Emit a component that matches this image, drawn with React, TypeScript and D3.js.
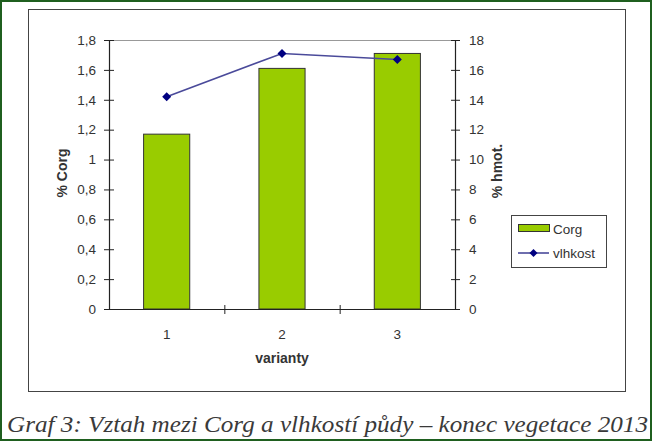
import React from "react";
import * as d3 from "d3";

const categories = ["1", "2", "3"];
const corg = [1.17, 1.61, 1.71];
const vlhkost = [14.2, 17.1, 16.7];
const leftTicks = [0, 0.2, 0.4, 0.6, 0.8, 1, 1.2, 1.4, 1.6, 1.8];
const rightTicks = [0, 2, 4, 6, 8, 10, 12, 14, 16, 18];
const caption = "Graf 3: Vztah mezi Corg a vlhkostí půdy – konec vegetace 2013";

const W = 652;
const H = 441;
const left = 109;
const right = 455;
const top = 40;
const bottom = 309;

export default function App() {
  const x = d3.scaleBand<string>().domain(categories).range([left, right]).paddingInner(0).paddingOuter(0);
  const yL = d3.scaleLinear().domain([0, 1.8]).range([bottom, top]);
  const yR = d3.scaleLinear().domain([0, 18]).range([bottom, top]);
  const bw = x.bandwidth() * 0.4;
  const fmt = (v: number) => String(v).replace(".", ",");
  const line = d3
    .line<number>()
    .x((_, i) => (x(categories[i]) as number) + x.bandwidth() / 2)
    .y((d) => yR(d));
  const font = "Arial, 'Liberation Sans', sans-serif";
  const diamond = (cx: number, cy: number, r: number) =>
    `M${cx},${cy - r}L${cx + r},${cy}L${cx},${cy + r}L${cx - r},${cy}Z`;
  const boundaries = d3.range(categories.length + 1).map((i) => left + i * x.bandwidth());

  return (
    <div style={{ position: "fixed", left: 0, top: 0 }}>
      <svg width={W} height={H} style={{ display: "block" }}>
        <rect x={0} y={0} width={W} height={H} fill="#ffffff" />
        <rect x={1} y={1} width={W - 2} height={H - 2} fill="none" stroke="#1f5f1f" strokeWidth={2} />
        <rect x={28.5} y={9.5} width={597} height={382} fill="#fff" stroke="#444" strokeWidth={1} />
        <line x1={left} x2={right} y1={top + 0.5} y2={top + 0.5} stroke="#999" strokeWidth={1} />
        {corg.map((v, i) => {
          const cx = (x(categories[i]) as number) + x.bandwidth() / 2;
          return (
            <rect
              key={i}
              x={cx - bw / 2}
              y={yL(v)}
              width={bw}
              height={bottom - yL(v)}
              fill="#99cc00"
              stroke="#333"
              strokeWidth={1}
            />
          );
        })}
        <line x1={left + 0.5} x2={left + 0.5} y1={top} y2={bottom} stroke="#222" strokeWidth={1.2} />
        <line x1={right + 0.5} x2={right + 0.5} y1={top} y2={bottom} stroke="#222" strokeWidth={1.2} />
        <line x1={left} x2={right} y1={bottom + 0.5} y2={bottom + 0.5} stroke="#222" strokeWidth={1.2} />
        {leftTicks.map((t) => (
          <g key={"l" + t}>
            <line x1={left - 5} x2={left + 5} y1={yL(t) + 0.5} y2={yL(t) + 0.5} stroke="#222" />
            <text x={left - 13} y={yL(t)} dy="0.35em" textAnchor="end" fontFamily={font} fontSize={13.5} fill="#333">
              {fmt(t)}
            </text>
          </g>
        ))}
        {rightTicks.map((t) => (
          <g key={"r" + t}>
            <line x1={right - 4} x2={right + 5} y1={yR(t) + 0.5} y2={yR(t) + 0.5} stroke="#222" />
            <text x={right + 14} y={yR(t)} dy="0.35em" textAnchor="start" fontFamily={font} fontSize={13.5} fill="#333">
              {fmt(t)}
            </text>
          </g>
        ))}
        {boundaries.slice(1, -1).map((bx, i) => (
          <line key={"b" + i} x1={bx + 0.5} x2={bx + 0.5} y1={bottom - 4} y2={bottom + 5} stroke="#222" />
        ))}
        {categories.map((c) => (
          <text
            key={c}
            x={(x(c) as number) + x.bandwidth() / 2}
            y={334}
            dy="0.35em"
            textAnchor="middle"
            fontFamily={font}
            fontSize={13.5}
            fill="#333"
          >
            {c}
          </text>
        ))}
        <text x={282} y={358} dy="0.35em" textAnchor="middle" fontFamily={font} fontSize={14} fontWeight="bold" fill="#333">
          varianty
        </text>
        <text
          transform={`translate(62,173) rotate(-90)`}
          textAnchor="middle"
          dy="0.35em"
          fontFamily={font}
          fontSize={14}
          fontWeight="bold"
          fill="#333"
        >
          % Corg
        </text>
        <text
          transform={`translate(497,171) rotate(-90)`}
          textAnchor="middle"
          dy="0.35em"
          fontFamily={font}
          fontSize={14}
          fontWeight="bold"
          fill="#333"
        >
          % hmot.
        </text>
        <path d={line(vlhkost) || ""} fill="none" stroke="#4a4a9a" strokeWidth={1.6} />
        {vlhkost.map((v, i) => (
          <path
            key={"m" + i}
            d={diamond((x(categories[i]) as number) + x.bandwidth() / 2, yR(v), 4.5)}
            fill="#000080"
          />
        ))}
        <rect x={511.5} y={215.5} width={95} height={52} fill="#fff" stroke="#444" strokeWidth={1} />
        <rect x={518.5} y={224.5} width={31} height={7} fill="#99cc00" stroke="#333" />
        <text x={553} y={229} dy="0.35em" fontFamily={font} fontSize={13.5} fill="#333">
          Corg
        </text>
        <line x1={518} x2={549} y1={253} y2={253} stroke="#4a4a9a" strokeWidth={1.6} />
        <path d={diamond(533.5, 253, 4)} fill="#000080" />
        <text x={553} y={253} dy="0.35em" fontFamily={font} fontSize={13.5} fill="#333">
          vlhkost
        </text>
        <text
          x={7}
          y={432}
          fontFamily="'Times New Roman', 'Liberation Serif', serif"
          fontStyle="italic"
          fontSize={24}
          fill="#3a3a3a"
          textLength={641}
          lengthAdjust="spacingAndGlyphs"
        >
          {caption}
        </text>
      </svg>
    </div>
  );
}
